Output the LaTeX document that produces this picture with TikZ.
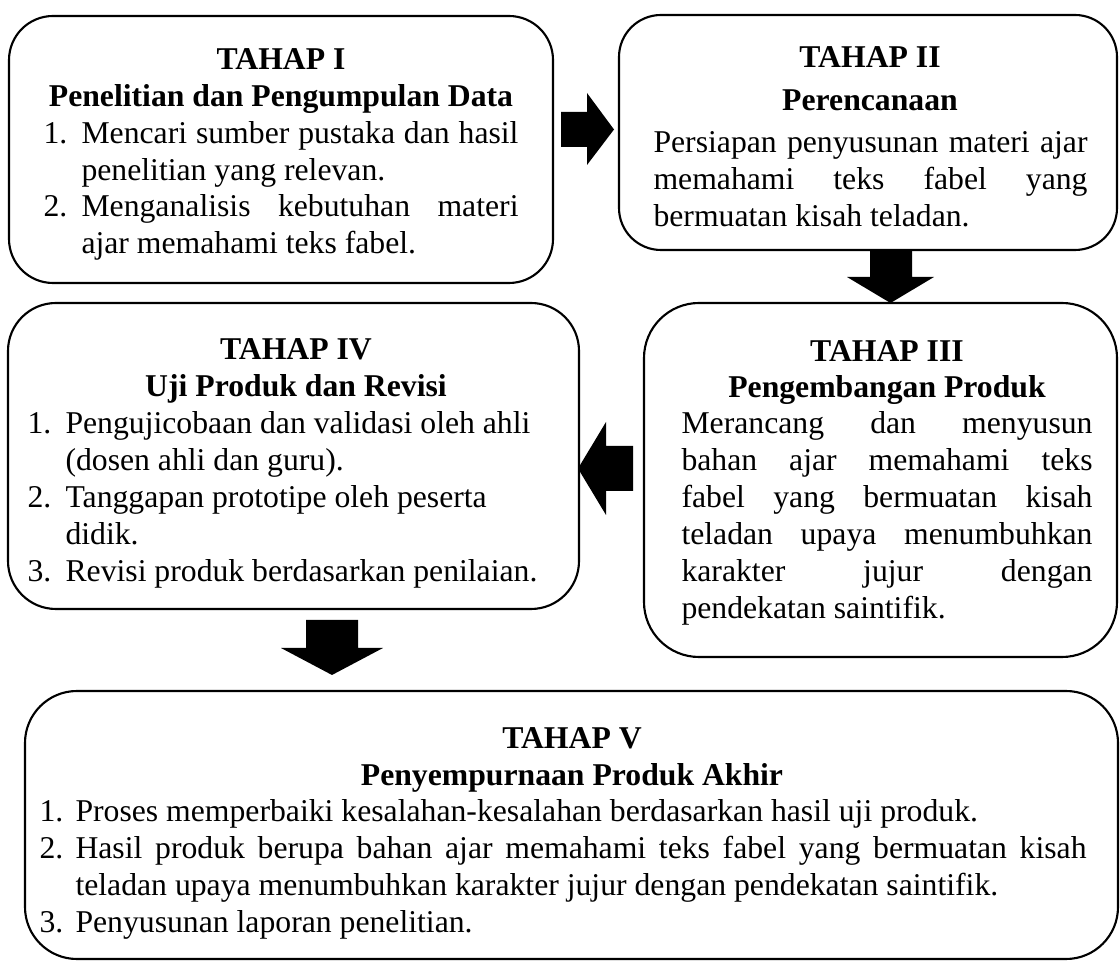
\documentclass[tikz,border=0pt]{standalone}
\usepackage{fontspec}
\setmainfont{Liberation Serif}
\newdimen\px \px=0.3785pt
\tikzset{
  box/.style={draw, line width=0.8pt, rounded corners=#1, inner sep=0pt},
  ln/.style={anchor=base west, inner sep=0pt, font=\fontsize{12}{14}\selectfont},
  ttl/.style={anchor=base, inner sep=0pt, font=\fontsize{12}{14}\selectfont\bfseries},
  blk/.style={fill=black},
}
\begin{document}
\begin{tikzpicture}[x=0.3785pt,y=-0.3785pt]
\useasboundingbox (0,0) rectangle (1120,961);

% boxes
\node[box=44\px, minimum width=544\px, minimum height=267\px] (b1) at (281,149.5) {};
\node[box=42\px, minimum width=498\px, minimum height=235\px] (b2) at (868,132.5) {};
\node[box=55\px, minimum width=473\px, minimum height=354\px] (b3) at (880.5,480) {};
\node[box=48\px, minimum width=571\px, minimum height=306\px] (b4) at (293.5,456) {};
\node[box=52\px, minimum width=1093\px, minimum height=268\px] (b5) at (571.5,825) {};

% block arrows
\fill[blk] (561,112) -- (587,112) -- (587,93) -- (614,129.5) -- (587,165) -- (587,147) -- (561,147) -- cycle;
\fill[blk] (870,250) -- (912,250) -- (912,277) -- (934,277) -- (890.5,303) -- (847,277) -- (870,277) -- cycle;
\fill[blk] (633,446) -- (606,446) -- (606,422) -- (578,468.5) -- (606,515) -- (606,491) -- (633,491) -- cycle;
\fill[blk] (306,620) -- (358,620) -- (358,648) -- (383,648) -- (332,675) -- (281,648) -- (306,648) -- cycle;

% Tahap I
\node[ttl] (t1a) at (281,70) {TAHAP I};
\node[ttl] (t1b) at (281,107) {Penelitian dan Pengumpulan Data};
\node[ln] (t1c) at (43,144) {1.};
\node[ln] (t1d) at (81,144) {\makebox[437\px][s]{Mencari sumber pustaka dan hasil}};
\node[ln] (t1e) at (81,181) {penelitian yang relevan.};
\node[ln] (t1f) at (43,217) {2.};
\node[ln] (t1g) at (81,217) {\makebox[437\px][s]{Menganalisis kebutuhan materi}};
\node[ln] (t1h) at (81,254) {ajar memahami teks fabel.};

% Tahap II
\node[ttl] (t2a) at (870,68) {TAHAP II};
\node[ttl] (t2b) at (870,111) {Perencanaan};
\node[ln] (t2c) at (653,153) {\makebox[434\px][s]{Persiapan penyusunan materi ajar}};
\node[ln] (t2d) at (653,190) {\makebox[434\px][s]{memahami teks fabel yang}};
\node[ln] (t2e) at (653,227) {bermuatan kisah teladan.};

% Tahap III
\node[ttl] (t3a) at (887,362) {TAHAP III};
\node[ttl] (t3b) at (887,398) {Pengembangan Produk};
\node[ln] (t3c) at (681,434) {\makebox[411\px][s]{Merancang dan menyusun}};
\node[ln] (t3d) at (681,471) {\makebox[411\px][s]{bahan ajar memahami teks}};
\node[ln] (t3e) at (681,508) {\makebox[411\px][s]{fabel yang bermuatan kisah}};
\node[ln] (t3f) at (681,545) {\makebox[411\px][s]{teladan upaya menumbuhkan}};
\node[ln] (t3g) at (681,582) {\makebox[411\px][s]{karakter jujur dengan}};
\node[ln] (t3h) at (681,619) {pendekatan saintifik.};

% Tahap IV
\node[ttl] (t4a) at (296,360) {TAHAP IV};
\node[ttl] (t4b) at (296,397) {Uji Produk dan Revisi};
\node[ln] (t4c) at (27,434) {1.};
\node[ln] (t4d) at (65,434) {Pengujicobaan dan validasi oleh ahli};
\node[ln] (t4e) at (65,471) {(dosen ahli dan guru).};
\node[ln] (t4f) at (27,508) {2.};
\node[ln] (t4g) at (65,508) {Tanggapan prototipe oleh peserta};
\node[ln] (t4h) at (65,545) {didik.};
\node[ln] (t4i) at (27,582) {3.};
\node[ln] (t4j) at (65,582) {Revisi produk berdasarkan penilaian.};

% Tahap V
\node[ttl] (t5a) at (572,749) {TAHAP V};
\node[ttl] (t5b) at (572,786) {Penyempurnaan Produk Akhir};
\node[ln] (t5c) at (39,822) {1.};
\node[ln] (t5d) at (75,822) {Proses memperbaiki kesalahan-kesalahan berdasarkan hasil uji produk.};
\node[ln] (t5e) at (39,858) {2.};
\node[ln] (t5f) at (75,858) {\makebox[1011\px][s]{Hasil produk berupa bahan ajar memahami teks fabel yang bermuatan kisah}};
\node[ln] (t5g) at (75,895) {teladan upaya menumbuhkan karakter jujur dengan pendekatan saintifik.};
\node[ln] (t5h) at (39,932) {3.};
\node[ln] (t5i) at (75,932) {Penyusunan laporan penelitian.};
\end{tikzpicture}
\end{document}
